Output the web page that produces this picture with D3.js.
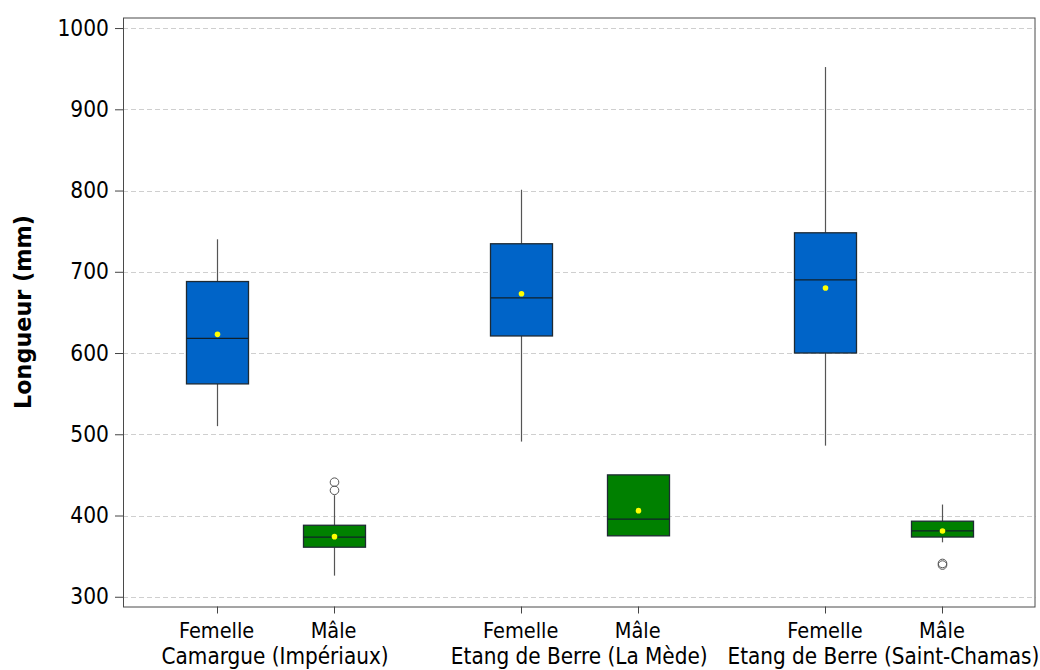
<!DOCTYPE html>
<html>
<head>
<meta charset="utf-8">
<script src="https://cdn.jsdelivr.net/npm/d3@7"></script>
<style>
  html, body { margin: 0; padding: 0; background: #fff; }
  svg { display: block; }
  text { font-family: "DejaVu Sans Condensed", "DejaVu Sans", sans-serif; fill: #000; }
  text.ytitle { font-family: "DejaVu Sans", sans-serif; font-weight: bold; }
</style>
</head>
<body>
<svg id="chart" width="1040" height="670"></svg>
<script>
// Sites and sexes
const groups = ["Camargue (Impériaux)", "Etang de Berre (La Mède)", "Etang de Berre (Saint-Chamas)"];
const sexes = ["Femelle", "Mâle"];

// Box statistics per site, ordered [Femelle, Mâle]
const whiskerLow  = [[510, 326], [491, 375], [486, 367]];
const q1          = [[562, 361], [621, 375], [600, 373.5]];
const median      = [[618, 373.5], [668, 395.5], [690, 381]];
const q3          = [[688, 388], [734.5, 450], [748, 393]];
const whiskerHigh = [[740, 425], [801, 450], [952, 413.5]];
const means       = [[623, 374], [673, 406], [680, 381]];
const outliers    = [[[], [431, 441]], [[], []], [[], [339, 341]]];

const yTicks = [300, 400, 500, 600, 700, 800, 900, 1000];
const sexColors = ["#0064c8", "#008000"];

const svg = d3.select("#chart");
const margin = { left: 123, right: 4.5, top: 17.5, bottom: 63.5 };
const W = 1040, H = 670;
const x0 = margin.left, x1 = W - margin.right;
const yTop = margin.top, yBot = H - margin.bottom;

const y = d3.scaleLinear().domain([288, 1013]).range([yBot, yTop]);
const xGroup = d3.scaleBand().domain(groups).range([x0, x1]).paddingInner(0).paddingOuter(0);
const xSex = d3.scalePoint().domain(sexes).range([0, xGroup.bandwidth()]).padding(0.8);
const boxW = 62;

// Gridlines
svg.append("g")
  .selectAll("line")
  .data(yTicks)
  .join("line")
  .attr("x1", x0).attr("x2", x1)
  .attr("y1", d => Math.round(y(d)) + 0.5).attr("y2", d => Math.round(y(d)) + 0.5)
  .attr("stroke", "#cfcfcf")
  .attr("stroke-width", 1)
  .attr("stroke-dasharray", "5,3");

// Y axis
const yAxis = d3.axisLeft(y).tickValues(yTicks).tickSize(8).tickPadding(6).tickFormat(d3.format("d"));
const gy = svg.append("g").attr("transform", `translate(${x0},0)`).call(yAxis);
gy.select(".domain").remove();
gy.selectAll(".tick line").attr("stroke", "#444");
gy.selectAll(".tick text").attr("font-size", 22.5).attr("fill", "#000");

// X axis: sex ticks within each site
const xPositions = [];
groups.forEach((g, gi) => sexes.forEach((s, si) => {
  xPositions.push({ g, gi, s, si, x: xGroup(g) + xSex(s) });
}));

const xTickG = svg.append("g");
xTickG.selectAll("line")
  .data(xPositions)
  .join("line")
  .attr("x1", d => Math.round(d.x) + 0.5).attr("x2", d => Math.round(d.x) + 0.5)
  .attr("y1", yBot).attr("y2", yBot + 7)
  .attr("stroke", "#444");
xTickG.selectAll("text")
  .data(xPositions)
  .join("text")
  .attr("x", d => d.x)
  .attr("y", yBot + 31)
  .attr("text-anchor", "middle")
  .attr("font-size", 21.5)
  .text(d => d.s);

svg.append("g").selectAll("text")
  .data(groups)
  .join("text")
  .attr("x", d => xGroup(d) + xGroup.bandwidth() / 2)
  .attr("y", yBot + 57)
  .attr("text-anchor", "middle")
  .attr("font-size", 22.3)
  .text(d => d);

// Y axis title
svg.append("text")
  .attr("class", "ytitle")
  .attr("transform", `translate(31,${(yTop + yBot) / 2}) rotate(-90)`)
  .attr("text-anchor", "middle")
  .attr("font-size", 22.3)
  .text("Longueur (mm)");

// Boxes
const boxes = svg.append("g");
xPositions.forEach(d => {
  const gi = d.gi, si = d.si;
  const cx = Math.round(d.x) + 0.5;
  const g = boxes.append("g");
  // whiskers
  g.append("line")
    .attr("x1", cx).attr("x2", cx)
    .attr("y1", y(whiskerHigh[gi][si])).attr("y2", y(q3[gi][si]))
    .attr("stroke", "#555").attr("stroke-width", 1.2);
  g.append("line")
    .attr("x1", cx).attr("x2", cx)
    .attr("y1", y(q1[gi][si])).attr("y2", y(whiskerLow[gi][si]))
    .attr("stroke", "#555").attr("stroke-width", 1.2);
  // box
  g.append("rect")
    .attr("x", cx - boxW / 2)
    .attr("y", y(q3[gi][si]))
    .attr("width", boxW)
    .attr("height", y(q1[gi][si]) - y(q3[gi][si]))
    .attr("fill", sexColors[si])
    .attr("stroke", "#1e2a33")
    .attr("stroke-width", 1.3);
  // median
  g.append("line")
    .attr("x1", cx - boxW / 2).attr("x2", cx + boxW / 2)
    .attr("y1", y(median[gi][si])).attr("y2", y(median[gi][si]))
    .attr("stroke", "#10202a").attr("stroke-width", 1.3);
  // mean
  g.append("circle")
    .attr("cx", cx).attr("cy", y(means[gi][si]))
    .attr("r", 2.8)
    .attr("fill", "#ffff00");
  // outliers
  g.selectAll("circle.out")
    .data(outliers[gi][si])
    .join("circle")
    .attr("class", "out")
    .attr("cx", cx).attr("cy", v => y(v))
    .attr("r", 4.3)
    .attr("fill", "none")
    .attr("stroke", "#555")
    .attr("stroke-width", 1);
});

// Plot frame
svg.append("rect")
  .attr("x", x0 + 0.5).attr("y", yTop + 0.5)
  .attr("width", x1 - x0 - 1).attr("height", yBot - yTop)
  .attr("fill", "none")
  .attr("stroke", "#4a4a4a")
  .attr("stroke-width", 1);
</script>
</body>
</html>
